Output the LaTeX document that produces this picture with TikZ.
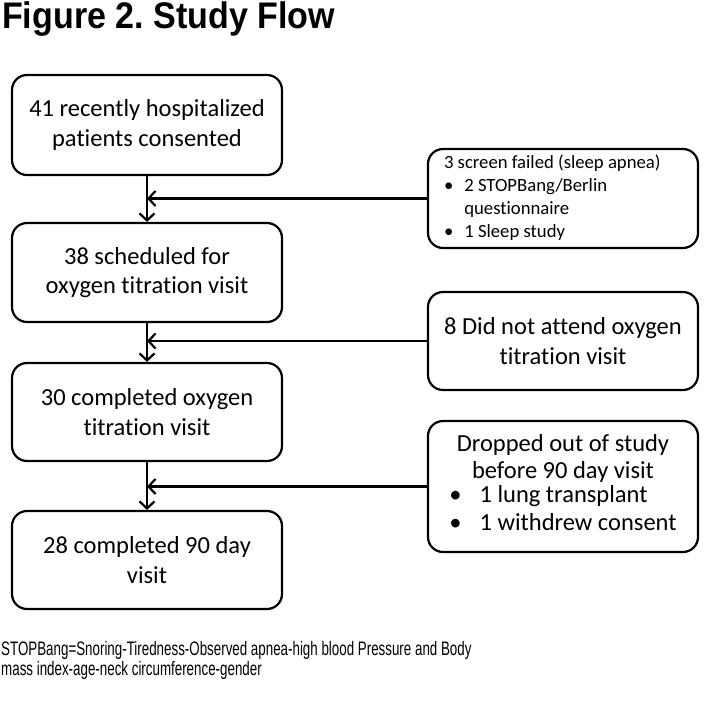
\documentclass[tikz,border=0pt]{standalone}
\usepackage{fontspec}
\setmainfont[Ligatures=NoCommon]{Carlito}
\newfontfamily\titlefont[FakeStretch=0.92]{Liberation Sans}
\newfontfamily\notefont[FakeStretch=0.685]{Liberation Sans}
\usepackage{tikz}
\usetikzlibrary{arrows.meta,positioning,calc}

\tikzset{
  flowbox/.style={draw, line width=2.2pt, rounded corners=15pt, minimum width=270pt, align=center,
    font=\fontsize{24.5}{29.5}\selectfont},
  sidebox/.style={draw, line width=2.2pt, rounded corners=15pt, minimum width=270pt, align=center,
    font=\fontsize{24.5}{27.5}\selectfont},
  flowarrow/.style={line width=2.2pt, -{Straight Barb[length=7pt,width=15pt,line width=2.2pt]}}
}

\begin{document}
\begin{tikzpicture}[x=1pt,y=1pt]
  \useasboundingbox (0,0) rectangle (710,-701);

  % title
  \node[anchor=base west, inner sep=0pt, font=\titlefont\bfseries\fontsize{37}{40}\selectfont] (title) at (2,-29) {Figure 2.\ Study Flow};

  % main column
  \node[flowbox, minimum height=100pt] (consented) at (147,-125) {41 recently hospitalized\\patients consented};
  \node[flowbox, minimum height=99pt] (scheduled) at (147,-272.5) {38 scheduled for\\oxygen titration visit};
  \node[flowbox, minimum height=98pt] (completed) at (147,-412) {30 completed oxygen\\titration visit};
  \node[flowbox, minimum height=98pt] (finished) at (147,-560) {28 completed 90 day\\visit};

  % exclusions
  \node[sidebox, minimum height=99pt, font=\fontsize{18.7}{23}\selectfont] (screenfail) at (563,-198.5) {%
    \makebox[238pt][l]{\begin{tabular}{@{}l@{\hspace{11pt}}l@{}}
      \multicolumn{2}{@{}l@{}}{3 screen failed (sleep apnea)}\\
      \textbullet & 2 STOPBang/Berlin\\
                  & questionnaire\\
      \textbullet & 1 Sleep study
    \end{tabular}}};
  \node[sidebox, minimum height=98pt, font=\fontsize{24.5}{29.5}\selectfont] (noattend) at (563,-341) {8 Did not attend oxygen\\titration visit};
  \node[sidebox, minimum height=131pt] (dropout) at (563,-486.5) {%
    Dropped out of study\\before 90 day visit\\
    \begin{tabular}{@{}l@{\hspace{18pt}}l@{}}
      \textbullet & 1 lung transplant\\
      \textbullet & 1 withdrew consent
    \end{tabular}};

  % connectors
  \draw[flowarrow] (consented.south) -- (scheduled.north);
  \draw[flowarrow] (scheduled.south) -- (completed.north);
  \draw[flowarrow] (completed.south) -- (finished.north);
  \draw[flowarrow] (screenfail.west) -- (screenfail.west -| consented.south);
  \draw[flowarrow] (noattend.west) -- (noattend.west -| scheduled.south);
  \draw[flowarrow] (dropout.west) -- (dropout.west -| completed.south);

  % footnote
  \node[anchor=base west, inner sep=0pt, align=left, font=\notefont\fontsize{19.5}{18}\selectfont] (note) at (1,-675)
    {STOPBang=Snoring-Tiredness-Observed apnea-high blood Pressure and Body\\mass index-age-neck circumference-gender};
\end{tikzpicture}
\end{document}
